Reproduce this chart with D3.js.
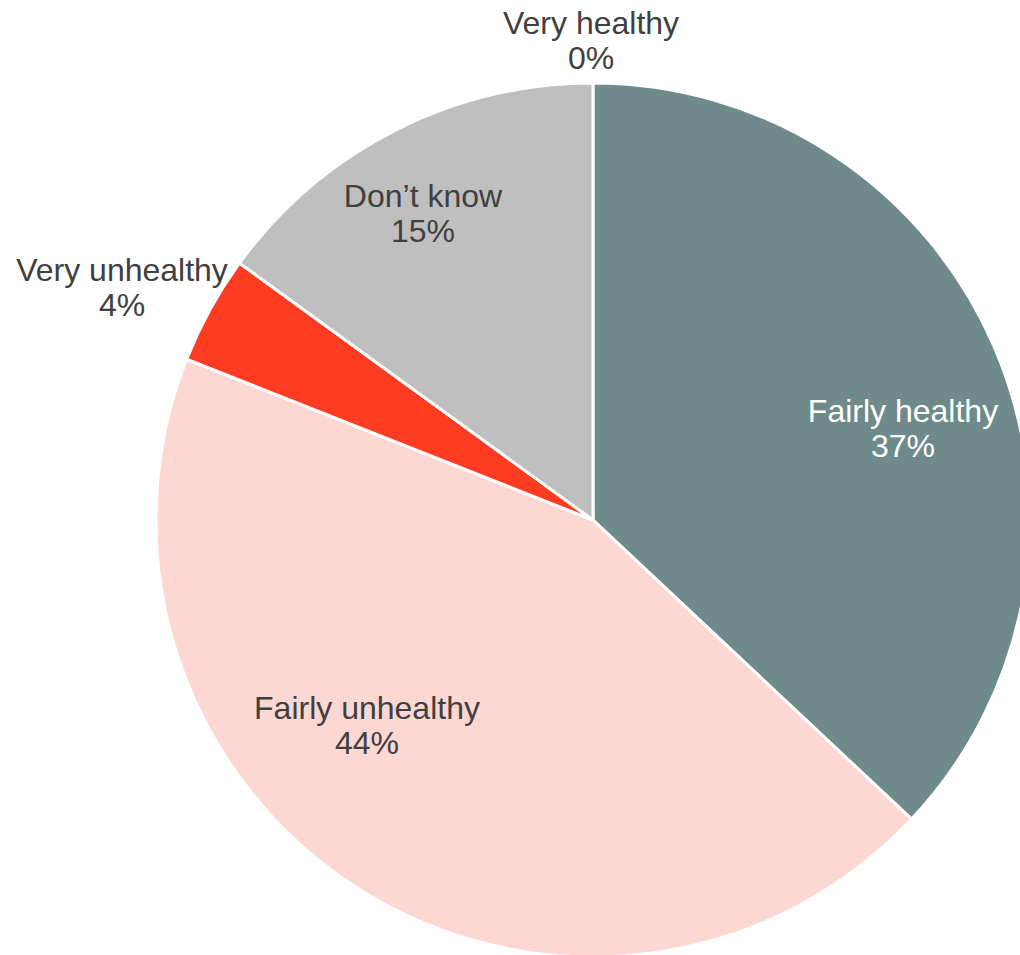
<!DOCTYPE html>
<html>
<head>
<meta charset="utf-8">
<script src="https://cdn.jsdelivr.net/npm/d3@7"></script>
<style>
  html, body { margin: 0; padding: 0; background: #ffffff; }
  svg { display: block; }
</style>
</head>
<body>
<svg id="chart" width="1020" height="955"></svg>
<script>
// Survey answers and their shares (percent), clockwise from 12 o'clock
const categories = ["Very healthy", "Fairly healthy", "Fairly unhealthy", "Very unhealthy", "Don\u2019t know"];
const values = [0, 37, 44, 4, 15];
const colors = ["#8fa7a7", "#6f8a8b", "#fdd7d2", "#ff3b21", "#bfbfbf"];
const labelColors = ["#404040", "#ffffff", "#404040", "#404040", "#404040"];

const width = 1020, height = 955;
const cx = 593, cy = 520, radius = 437;

// Label anchor (centre of the two-line block) as offset from the pie centre
const labelOffsets = [
  [-2, -480],
  [310, -92],
  [-226, 205],
  [-471, -233],
  [-170, -307]
];

const svg = d3.select("#chart");
const g = svg.append("g").attr("transform", `translate(${cx},${cy})`);

const data = categories.map((c, i) => ({ name: c, value: values[i], i }));

const pie = d3.pie().sort(null).value(d => d.value).startAngle(0).endAngle(2 * Math.PI);
const arc = d3.arc().innerRadius(0).outerRadius(radius);

g.selectAll("path.slice")
  .data(pie(data))
  .join("path")
  .attr("class", "slice")
  .attr("d", arc)
  .attr("fill", d => colors[d.data.i])
  .attr("stroke", "#ffffff")
  .attr("stroke-width", 3)
  .attr("stroke-linejoin", "round");

const fontSize = 32, lineGap = 35;
const labels = g.selectAll("text.lbl")
  .data(data)
  .join("text")
  .attr("class", "lbl")
  .attr("text-anchor", "middle")
  .attr("font-family", "'Liberation Sans', Arial, sans-serif")
  .attr("font-size", fontSize)
  .attr("fill", d => labelColors[d.i])
  .attr("transform", d => `translate(${labelOffsets[d.i][0]},${labelOffsets[d.i][1]})`);

labels.append("tspan")
  .attr("x", 0)
  .attr("y", -lineGap / 2 + 11)
  .text(d => d.name);
labels.append("tspan")
  .attr("x", 0)
  .attr("y", lineGap / 2 + 11)
  .text(d => d3.format("d")(d.value) + "%");
</script>
</body>
</html>
